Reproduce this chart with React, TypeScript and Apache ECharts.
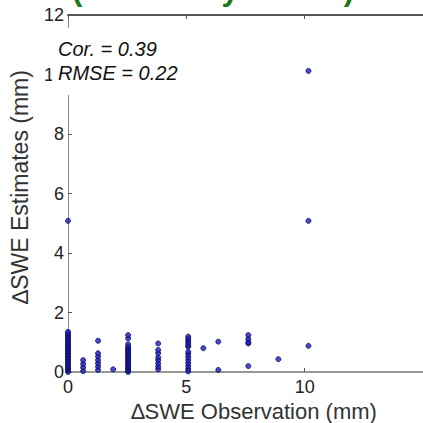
import React, { useEffect, useRef } from "react";
import * as echarts from "echarts";

// Observation (mm) values and the estimates stacked on each one
const obsX = [0, 0.64, 1.27, 1.91, 2.54, 3.81, 5.08, 5.72, 6.35, 7.62, 8.89, 10.16];
const estByObs: number[][] = [
  [0, 0.05, 0.1, 0.15, 0.2, 0.25, 0.3, 0.35, 0.4, 0.45, 0.5, 0.55, 0.6, 0.65, 0.7, 0.75, 0.8, 0.85, 0.9, 0.95, 1.0, 1.05, 1.1, 1.15, 1.2, 1.25, 1.3, 1.35, 5.08],
  [0.03, 0.15, 0.27, 0.4],
  [0.07, 0.18, 0.29, 0.4, 0.52, 0.63, 1.05],
  [0.09],
  [0, 0.05, 0.1, 0.15, 0.2, 0.25, 0.3, 0.35, 0.4, 0.45, 0.5, 0.55, 0.6, 0.65, 0.7, 0.75, 0.8, 0.85, 0.93, 1.13, 1.24],
  [0.09, 0.18, 0.29, 0.4, 0.49, 0.63, 0.74, 0.96],
  [0.02, 0.1, 0.2, 0.3, 0.4, 0.5, 0.6, 0.68, 0.85, 0.9, 0.98, 1.05, 1.12, 1.19],
  [0.8],
  [0.07, 1.02],
  [0.2, 0.96, 1.0, 1.11, 1.24],
  [0.43],
  [0.88, 5.08, 10.12],
];

const xTicks = { min: 0, max: 15, interval: 5 };
const yTicks = { min: 0, max: 12, interval: 2 };
const titleText = "(Winter Dry Period)";
const statLines = ["Cor. = 0.39", "RMSE = 0.22"];
const xName = "\u2206SWE Observation (mm)";
const yName = "\u2206SWE Estimates (mm)";

const FONT = "Liberation Sans";

export default function App() {
  const ref = useRef<HTMLDivElement>(null);
  useEffect(() => {
    if (!ref.current) return;
    const chart = echarts.init(ref.current, null, { renderer: "svg" });
    const points: number[][] = [];
    obsX.forEach((x, i) => estByObs[i].forEach((y) => points.push([x, y])));

    chart.setOption({
      animation: false,
      backgroundColor: "#ffffff",
      grid: { left: 68, top: 15, right: -27, bottom: 51 },
      xAxis: [
        {
          type: "value",
          ...xTicks,
          position: "bottom",
          splitLine: { show: false },
          axisLine: { show: true, lineStyle: { color: "#777", width: 1.5 } },
          axisTick: { show: true, inside: true, length: 4, lineStyle: { color: "#555" } },
          axisLabel: { color: "#222", fontSize: 18, fontFamily: FONT, margin: 6, showMaxLabel: false },
        },
        {
          type: "value",
          ...xTicks,
          position: "top",
          splitLine: { show: false },
          axisLine: { show: true, onZero: false, lineStyle: { color: "#555", width: 2 } },
          axisTick: { show: true, inside: true, length: 4, lineStyle: { color: "#555" } },
          axisLabel: { show: false },
        },
      ],
      yAxis: [
        {
          type: "value",
          ...yTicks,
          splitLine: { show: false },
          axisLine: { show: true, lineStyle: { color: "#888", width: 1 } },
          axisTick: { show: true, inside: true, length: 4, lineStyle: { color: "#555" } },
          axisLabel: { color: "#222", fontSize: 18, fontFamily: FONT, margin: 4 },
        },
      ],
      series: [
        {
          type: "scatter",
          data: points,
          symbol: "circle",
          symbolSize: 5,
          clip: false,
          itemStyle: { color: "#1c1cd0", borderColor: "#0c0c48", borderWidth: 1 },
        },
      ],
      graphic: [
        {
          type: "text",
          left: 72,
          top: -26,
          z: 10,
          style: {
            text: titleText,
            fontSize: 31,
            fontWeight: "bold",
            fontFamily: FONT,
            fill: "#1b7a1b",
          },
        },
        {
          type: "rect",
          z: 20,
          shape: { x: 52, y: 28, width: 138, height: 67 },
          style: { fill: "#ffffff" },
        },
        {
          type: "text",
          z: 21,
          x: 58,
          y: 49,
          style: {
            text: statLines[0],
            fontSize: 20,
            fontStyle: "italic",
            fontFamily: FONT,
            fill: "#111",
            verticalAlign: "middle",
          },
        },
        {
          type: "text",
          z: 21,
          x: 58,
          y: 73,
          style: {
            text: statLines[1],
            fontSize: 20,
            fontStyle: "italic",
            fontFamily: FONT,
            fill: "#111",
            verticalAlign: "middle",
          },
        },
        {
          type: "text",
          z: 21,
          x: 254,
          y: 411,
          style: {
            text: xName,
            fontSize: 22,
            fontFamily: FONT,
            fill: "#333",
            align: "center",
            verticalAlign: "middle",
          },
        },
        {
          type: "text",
          z: 21,
          x: 20,
          y: 187,
          rotation: Math.PI / 2,
          style: {
            text: yName,
            fontSize: 23,
            fontFamily: FONT,
            fill: "#333",
            align: "center",
            verticalAlign: "middle",
          },
        },
      ],
    });
    return () => chart.dispose();
  }, []);
  return (
    <div
      ref={ref}
      style={{ position: "fixed", left: 0, top: 0, width: 423, height: 423, background: "#fff" }}
    />
  );
}
